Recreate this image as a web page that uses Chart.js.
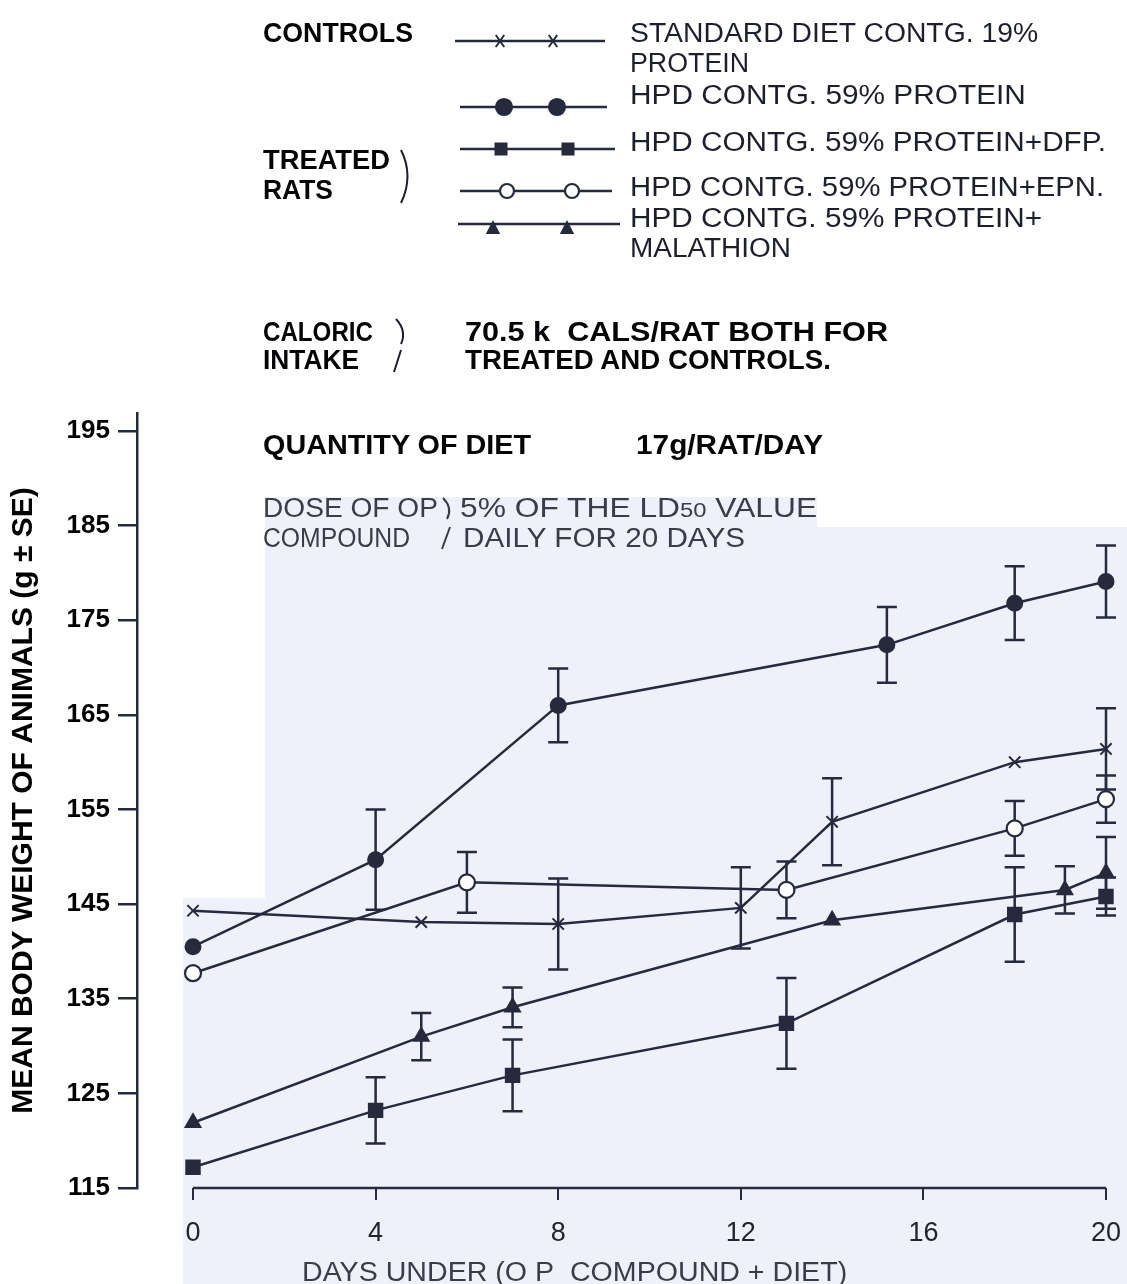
<!DOCTYPE html>
<html lang="en">
<head>
<meta charset="UTF-8">
<title>Mean body weight of rats on HPD with OP compounds</title>
<script src="https://cdn.jsdelivr.net/npm/chart.js"></script>
<style>
  body { margin: 0; background: #fff; }
  #wrap { position: relative; width: 1127px; height: 1284px; overflow: hidden;
          font-family: 'Liberation Sans', Arial, sans-serif; }
  canvas { position: absolute; left: 0; top: 0; }
  .t { position: absolute; white-space: nowrap; line-height: 1; transform-origin: 0 50%; }
  .h { font-weight: bold; color: #050508; }
  .l { color: #1d1f2c; }
  .d { color: #3a3c4a; }
</style>
</head>
<body>
<div id="wrap">
  <canvas id="chart" width="1127" height="1284"></canvas>
</div>
<script>
// --- data ---
const xTicks = [0, 4, 8, 12, 16, 20];
const yTicks = [115, 125, 135, 145, 155, 165, 175, 185, 195];

// controls: standard diet 19% protein
const standardDays   = [0, 5, 8, 12, 14, 18, 20];
const standardWeight = [144.3, 143.1, 142.9, 144.6, 153.7, 160.0, 161.4];
const standardSE     = [null, null, 4.8, 4.3, 4.6, null, 4.3];

// HPD 59% protein
const hpdDays   = [0, 4, 8, 15.2, 18, 20];
const hpdWeight = [140.5, 149.7, 166.0, 172.4, 176.8, 179.1];
const hpdSE     = [null, 5.3, 3.9, 4.0, 3.9, 3.8];

// HPD + DFP
const dfpDays   = [0, 4, 7, 13, 18, 20];
const dfpWeight = [117.2, 123.2, 126.9, 132.4, 143.9, 145.8];
const dfpSE     = [null, 3.5, 3.8, 4.8, 5.0, 2.0];

// HPD + EPN
const epnDays   = [0, 6, 13, 18, 20];
const epnWeight = [137.7, 147.3, 146.5, 153.0, 156.1];
const epnSE     = [null, 3.2, 3.0, 2.9, 2.5];

// HPD + malathion
const malDays   = [0, 5, 7, 14, 19.1, 20];
const malWeight = [121.9, 131.0, 134.1, 143.3, 146.5, 148.3];
const malSE     = [null, 2.5, 2.1, null, 2.5, 3.8];

// --- text round the plot ---
const notes = [
  ['CONTROLS', 263, 33, 150, 'h'],
  ['STANDARD DIET CONTG. 19%', 630, 33, 408, 'l'],
  ['PROTEIN', 630, 63, 119, 'l'],
  ['HPD CONTG. 59% PROTEIN', 630, 95, 396, 'l'],
  ['HPD CONTG. 59% PROTEIN+DFP.', 630, 142, 476, 'l'],
  ['HPD CONTG. 59% PROTEIN+EPN.', 630, 187, 474, 'l'],
  ['HPD CONTG. 59% PROTEIN+', 630, 218, 412, 'l'],
  ['MALATHION', 630, 248, 161, 'l'],
  ['TREATED', 263, 160, 127, 'h'],
  ['RATS', 263, 190, 70, 'h'],
  ['CALORIC', 263, 332, 110, 'h'],
  ['INTAKE', 263, 360, 96, 'h'],
  ['70.5 k&nbsp; CALS/RAT BOTH FOR', 465, 332, 423, 'h'],
  ['TREATED AND CONTROLS.', 465, 360, 366, 'h'],
  ['QUANTITY OF DIET', 263, 445, 268, 'h'],
  ['17g/RAT/DAY', 636, 445, 187, 'h'],
  ['DOSE OF OP', 263, 508, 175, 'd'],
  ['5% OF THE LD<span style="font-size:0.75em">50</span> VALUE', 460, 508, 357, 'd'],
  ['COMPOUND', 263, 538, 147, 'd'],
  ['DAILY FOR 20 DAYS', 463, 538, 282, 'd'],
  ['DAYS UNDER (O P&nbsp; COMPOUND + DIET)', 302, 1272, 545, 'd']
];

const wrap = document.getElementById('wrap');
notes.forEach(([txt, x, cy, w, cls]) => {
  const el = document.createElement('div');
  el.className = 't ' + cls;
  el.innerHTML = txt;
  el.style.fontSize = '27px';
  el.style.left = x + 'px';
  el.style.top = (cy - 13.5) + 'px';
  wrap.appendChild(el);
  const real = el.getBoundingClientRect().width;
  el.style.transform = 'scaleX(' + (w / real).toFixed(3) + ')';
});

const ink = '#252a3c';
const fam = "'Liberation Sans', Arial, sans-serif";
Chart.defaults.font.family = fam;

function series(label, days, weight, se, style) {
  return Object.assign({
    label: label,
    data: days.map((d, i) => ({x: d, y: weight[i]})),
    se: se,
    borderColor: ink, backgroundColor: ink, borderWidth: 2.5,
    pointBorderColor: ink, pointBackgroundColor: ink, pointBorderWidth: 2,
    tension: 0, clip: false
  }, style);
}

// legend glyphs (the figure draws its key by hand)
function mark(ctx, kind, x, y, r) {
  ctx.beginPath();
  if (kind === 'circle' || kind === 'open') {
    ctx.arc(x, y, r, 0, Math.PI * 2);
    ctx.fillStyle = kind === 'open' ? '#fff' : ink;
    ctx.fill(); ctx.stroke();
  } else if (kind === 'rect') {
    ctx.fillStyle = ink; ctx.fillRect(x - r, y - r, 2 * r, 2 * r);
  } else if (kind === 'triangle') {
    ctx.moveTo(x, y - r); ctx.lineTo(x + r * 0.9, y + r * 0.75); ctx.lineTo(x - r * 0.9, y + r * 0.75);
    ctx.closePath(); ctx.fillStyle = ink; ctx.fill();
  } else {
    ctx.moveTo(x - r * 0.7, y - r); ctx.lineTo(x + r * 0.7, y + r);
    ctx.moveTo(x + r * 0.7, y - r); ctx.lineTo(x - r * 0.7, y + r); ctx.stroke();
  }
}

const decor = {
  id: 'decor',
  beforeDraw(chart) {
    const ctx = chart.ctx;
    ctx.save();
    ctx.fillStyle = 'rgb(239,241,250)';
    ctx.beginPath();
    ctx.moveTo(265, 497); ctx.lineTo(817, 497); ctx.lineTo(817, 527); ctx.lineTo(1127, 527);
    ctx.lineTo(1127, 1284); ctx.lineTo(183, 1284); ctx.lineTo(183, 898); ctx.lineTo(265, 898);
    ctx.closePath(); ctx.fill();
    ctx.restore();
  },
  beforeDatasetsDraw(chart) {
    const {ctx, scales: {x, y}, chartArea} = chart;
    ctx.save();
    ctx.strokeStyle = ink; ctx.lineWidth = 2.5;
    // x axis line runs from day 0 to day 20 only
    ctx.beginPath();
    ctx.moveTo(x.getPixelForValue(xTicks[0]), chartArea.bottom);
    ctx.lineTo(x.getPixelForValue(xTicks[xTicks.length - 1]), chartArea.bottom);
    ctx.stroke();
    // error bars
    chart.data.datasets.forEach(ds => {
      ds.data.forEach((p, i) => {
        const e = ds.se[i];
        if (e == null) return;
        const px = x.getPixelForValue(p.x);
        const top = y.getPixelForValue(p.y + e), bot = y.getPixelForValue(p.y - e);
        ctx.beginPath();
        ctx.moveTo(px, top); ctx.lineTo(px, bot);
        ctx.moveTo(px - 10, top); ctx.lineTo(px + 10, top);
        ctx.moveTo(px - 10, bot); ctx.lineTo(px + 10, bot);
        ctx.stroke();
      });
    });
    ctx.restore();
  },
  afterDraw(chart) {
    const ctx = chart.ctx;
    ctx.save();
    ctx.strokeStyle = ink; ctx.lineWidth = 2.5;
    const rows = [
      [41, 455, 605, [500, 553], 'cross', 6, 0],
      [107, 460, 607, [504, 557], 'circle', 8, 0],
      [149, 460, 615, [501, 568], 'rect', 6.5, 0],
      [191, 460, 612, [507, 572], 'open', 7, 0],
      [224, 458, 620, [493, 567], 'triangle', 8, 4]
    ];
    rows.forEach(([yy, x1, x2, xs, kind, r, dy]) => {
      ctx.lineWidth = 2.5;
      ctx.beginPath(); ctx.moveTo(x1, yy); ctx.lineTo(x2, yy); ctx.stroke();
      ctx.lineWidth = kind === 'cross' ? 2 : 2.2;
      xs.forEach(xx => mark(ctx, kind, xx, yy + dy, r));
    });
    // hand-drawn brackets
    ctx.lineWidth = 2;
    ctx.strokeStyle = '#1d1f2c';
    ctx.beginPath();
    ctx.moveTo(401, 150); ctx.quadraticCurveTo(414, 176, 401, 203);
    ctx.moveTo(396, 319); ctx.quadraticCurveTo(407, 331, 401, 344);
    ctx.moveTo(401, 350); ctx.lineTo(394, 372);
    ctx.stroke();
    ctx.strokeStyle = '#3a3c4a';
    ctx.beginPath();
    ctx.moveTo(443, 498); ctx.quadraticCurveTo(453, 508, 447, 519);
    ctx.moveTo(450, 527); ctx.lineTo(442, 549);
    ctx.stroke();
    ctx.restore();
  }
};

new Chart(document.getElementById('chart'), {
  type: 'line',
  data: {
    datasets: [
      series('STANDARD DIET CONTG. 19% PROTEIN', standardDays, standardWeight, standardSE,
             {pointStyle: 'crossRot', pointRadius: 8, pointBorderWidth: 2}),
      series('HPD CONTG. 59% PROTEIN', hpdDays, hpdWeight, hpdSE,
             {pointStyle: 'circle', pointRadius: 7.5}),
      series('HPD CONTG. 59% PROTEIN+DFP.', dfpDays, dfpWeight, dfpSE,
             {pointStyle: 'rect', pointRadius: 9.5}),
      series('HPD CONTG. 59% PROTEIN+EPN.', epnDays, epnWeight, epnSE,
             {pointStyle: 'circle', pointRadius: 8, pointBackgroundColor: '#fff', pointBorderWidth: 2.2}),
      series('HPD CONTG. 59% PROTEIN+MALATHION', malDays, malWeight, malSE,
             {pointStyle: 'triangle', pointRadius: 8.5})
    ]
  },
  options: {
    responsive: false,
    animation: false,
    layout: {padding: {top: 413, right: 21, bottom: 0, left: 0}},
    plugins: {legend: {display: false}, tooltip: {enabled: false}},
    scales: {
      x: {
        type: 'linear', min: -1.227, max: 20,
        afterBuildTicks: s => { s.ticks = xTicks.map(v => ({value: v})); },
        afterFit: s => { s.height = 96; s.paddingRight = 0; s.paddingLeft = 0; },
        border: {display: false},
        grid: {drawOnChartArea: false, tickLength: 12, color: ink, lineWidth: 2},
        ticks: {color: '#22242f', font: {size: 27}, padding: 17, maxRotation: 0, autoSkip: false}
      },
      y: {
        min: 115, max: 196.9,
        afterBuildTicks: s => { s.ticks = yTicks.map(v => ({value: v})); },
        afterFit: s => { s.width = 137; s.paddingTop = 0; s.paddingBottom = 0; },
        border: {display: true, color: ink, width: 2.5},
        grid: {drawOnChartArea: false, tickLength: 19, color: ink, lineWidth: 2.5},
        ticks: {color: '#000', font: {size: 26, weight: 'bold'}, padding: 8},
        title: {display: true, text: 'MEAN BODY WEIGHT OF ANIMALS (g ± SE)', color: '#000',
                font: {size: 30, weight: 'bold'}, padding: {top: 6, bottom: 0}}
      }
    }
  },
  plugins: [decor]
});
</script>
</body>
</html>
